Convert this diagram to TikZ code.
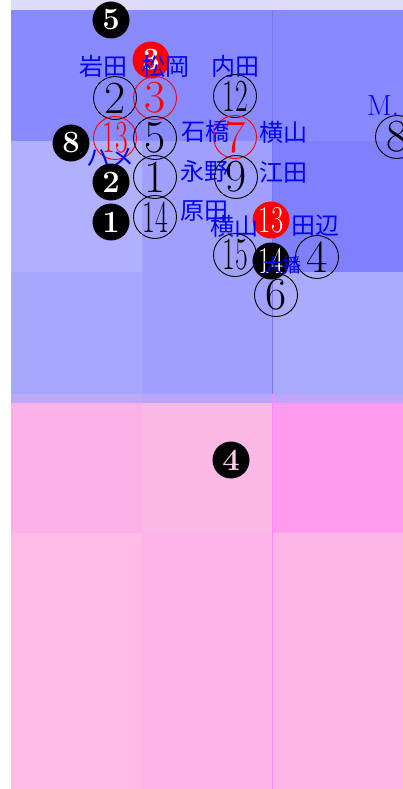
\documentclass[tikz,border=0pt]{standalone}
\usepackage{fontspec}
\usepackage{graphicx}
\usetikzlibrary{positioning}
\newfontfamily\jp{Noto Sans CJK JP}
\newcommand\tightnum[1]{\scalebox{0.6}[1]{#1}}
\definecolor{strip}{HTML}{DDDDFB}
\definecolor{b11}{HTML}{8A8AFF}
\definecolor{b12}{HTML}{8A8AFF}
\definecolor{b13}{HTML}{8888FF}
\definecolor{b21}{HTML}{B0B0FF}
\definecolor{b22}{HTML}{A0A0FF}
\definecolor{b23}{HTML}{8080FF}
\definecolor{b31}{HTML}{A6A6FD}
\definecolor{b32}{HTML}{A0A0FF}
\definecolor{b33}{HTML}{AAAAFF}
\definecolor{p11}{HTML}{FDB1E8}
\definecolor{p12}{HTML}{FDB9E6}
\definecolor{p13}{HTML}{FF9AEE}
\definecolor{p21}{HTML}{FDBBE5}
\definecolor{p22}{HTML}{FDB3E8}
\definecolor{p23}{HTML}{FDB7E6}
\definecolor{bline}{HTML}{7878FF}
\definecolor{pline}{HTML}{FF88FF}
\definecolor{holepink}{HTML}{F6CDEB}

\begin{document}
\begin{tikzpicture}[x=1pt, y=-1pt,
  num/.style={draw, circle, line width=0.9pt, minimum size=43pt, inner sep=0pt,
  font=\fontsize{46}{46}\selectfont},
  hot/.style={num, draw=red, text=red},
  dot/.style={circle, fill=black, minimum size=37pt, inner sep=0pt, text=white,
  font=\fontsize{31}{31}\selectfont\bfseries},
  dotwide/.style={dot, font=\fontsize{38}{38}\selectfont},
  who/.style={text=blue, inner sep=0pt, font=\fontsize{24}{24}\selectfont\jp}]
\useasboundingbox (0,0) rectangle (403,789);
\fill[strip] (11,0) rectangle (403,10);
\foreach \c/\x/\y in {b11/11/10, b12/142/10, b13/272/10,
  b21/11/141, b22/142/141, b23/272/141,
  b31/11/272, b32/142/272, b33/272/272}
  \fill[\c] (\x,\y) rectangle ++(131,131);
\foreach \c/\d/\x in {p11/b31/11, p12/b32/142, p13/b33/272}
  \fill[\c!25!\d] (\x,394) rectangle ++(131,9);
\foreach \c/\x in {p11/11, p12/142, p13/272}
  \fill[\c] (\x,403) rectangle ++(131,130);
\foreach \c/\x in {p21/11, p22/142, p23/272}
  \fill[\c] (\x,533) rectangle ++(131,256);
\draw[bline, line width=0.7pt] (272,10) -- (272,394);
\draw[pline, line width=0.7pt] (272,394) -- (272,789);

\node[dot] (d5) at (111,20) {5};
\node[dot, fill=red] (d3) at (151,60) {3};
\node[who] (iwata) at (103,66) {岩田};
\node[who] (matsuoka) at (165,66) {松岡};
\node[who] (uchida) at (235,66) {内田};
\node[num] (n2) at (115,98) {2};
\node[hot] (n3) at (155,98) {3};
\node[num] (n12) at (235,96) {\tightnum{12}};
\node[who, font=\fontsize{29}{29}\selectfont, anchor=west] (mdot) at (367,106) {M.};
\node[num] (n8) at (397,137) {8};

\node[dot] (d8) at (71,143) {8};
\node[hot] (n13) at (115,138) {\tightnum{13}};
\node[num] (n5) at (155,138) {5};
\node[hot] (n7) at (235,137) {7};
\node[who] (ishibashi) at (205,131) {石橋};
\node[who] (yokoyama) at (283,132) {横山};
\node[who] (hame) at (110,158) {ハメ};

\node[dot] (d2) at (111,182) {2};
\node[num] (n1) at (155,177) {1};
\node[who] (nagano) at (204,171) {永野};
\node[num] (n9) at (236,177) {9};
\node[who] (eda) at (283,172) {江田};

\node[dot] (d1) at (111,222) {1};
\node[num] (n14) at (155,217) {\tightnum{14}};
\node[who] (harada) at (204,211) {原田};
\node[dotwide, fill=red] (d13) at (271,220) {\scalebox{0.7}[1]{13}};
\node[who] (yokoyama2) at (234,226) {横山};
\node[who] (tanabe) at (315,226) {田辺};

\node[num] (n15) at (235,255) {\tightnum{15}};
\node[dotwide] (d14) at (271,261) {\scalebox{0.7}[1]{14}};
\node[num] (n4) at (317,257) {4};
\node[who, font=\fontsize{19}{19}\selectfont\jp] (ban) at (282,265) {大播};
\node[num] (n6) at (276,295) {6};

\node[dot, text=holepink] (d4) at (231,460) {4};
\end{tikzpicture}
\end{document}
